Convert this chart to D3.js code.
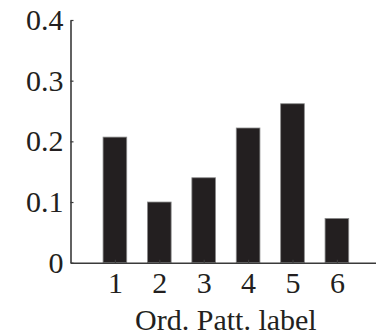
<!DOCTYPE html>
<html>
<head>
<meta charset="utf-8">
<script src="https://cdn.jsdelivr.net/npm/d3@7"></script>
<style>
  html, body { margin: 0; padding: 0; background: #fff; }
  svg { display: block; }
</style>
</head>
<body>
<svg id="chart" width="376" height="335"></svg>
<script>
const categories = [1, 2, 3, 4, 5, 6];
const values = [0.207, 0.100, 0.140, 0.222, 0.262, 0.073];
const yTicks = [0, 0.1, 0.2, 0.3, 0.4];
const yTickLabels = ["0", "0.1", "0.2", "0.3", "0.4"];
const xLabel = "Ord. Patt. label";

const svg = d3.select("#chart");
const ink = "#231f20";
const font = "'Liberation Serif', 'Times New Roman', serif";

const x = d3.scaleLinear().domain([0, 7]).range([70.5, 381.3]);
const y = d3.scaleLinear().domain([0, 0.4]).range([262.7, 20]);
const barW = 0.533;

// bars
svg.append("g").selectAll("rect")
  .data(categories)
  .join("rect")
  .attr("x", (d) => x(d - barW / 2))
  .attr("width", x(barW) - x(0))
  .attr("y", (d, i) => y(values[i]))
  .attr("height", (d, i) => y(0) - y(values[i]))
  .attr("fill", ink)
  .attr("stroke", "#8a8a8a")
  .attr("stroke-width", 0.8);

// y axis
const yAxis = d3.axisLeft(y)
  .tickValues(yTicks)
  .tickFormat((d, i) => yTickLabels[i])
  .tickSizeInner(-3)
  .tickSizeOuter(0)
  .tickPadding(7);
const gy = svg.append("g").attr("transform", `translate(${x(0)},0)`).call(yAxis);

// x axis
const xAxis = d3.axisBottom(x)
  .tickValues(categories)
  .tickFormat(d3.format("d"))
  .tickSizeInner(-3)
  .tickSizeOuter(0)
  .tickPadding(9);
const gx = svg.append("g").attr("transform", `translate(0,${y(0)})`).call(xAxis);

[gy, gx].forEach(g => {
  g.select(".domain").attr("stroke", "#3a3a3a").attr("stroke-width", 1.6);
  g.selectAll(".tick line").attr("stroke", "#3a3a3a").attr("stroke-width", 1.2);
  g.selectAll(".tick text").attr("fill", ink).style("font-family", font).style("font-size", "30px");
});

// x axis label
svg.append("text")
  .attr("x", (x(0) + x(7)) / 2)
  .attr("y", 330)
  .attr("text-anchor", "middle")
  .attr("fill", ink)
  .style("font-family", font)
  .style("font-size", "30px")
  .text(xLabel);
</script>
</body>
</html>
